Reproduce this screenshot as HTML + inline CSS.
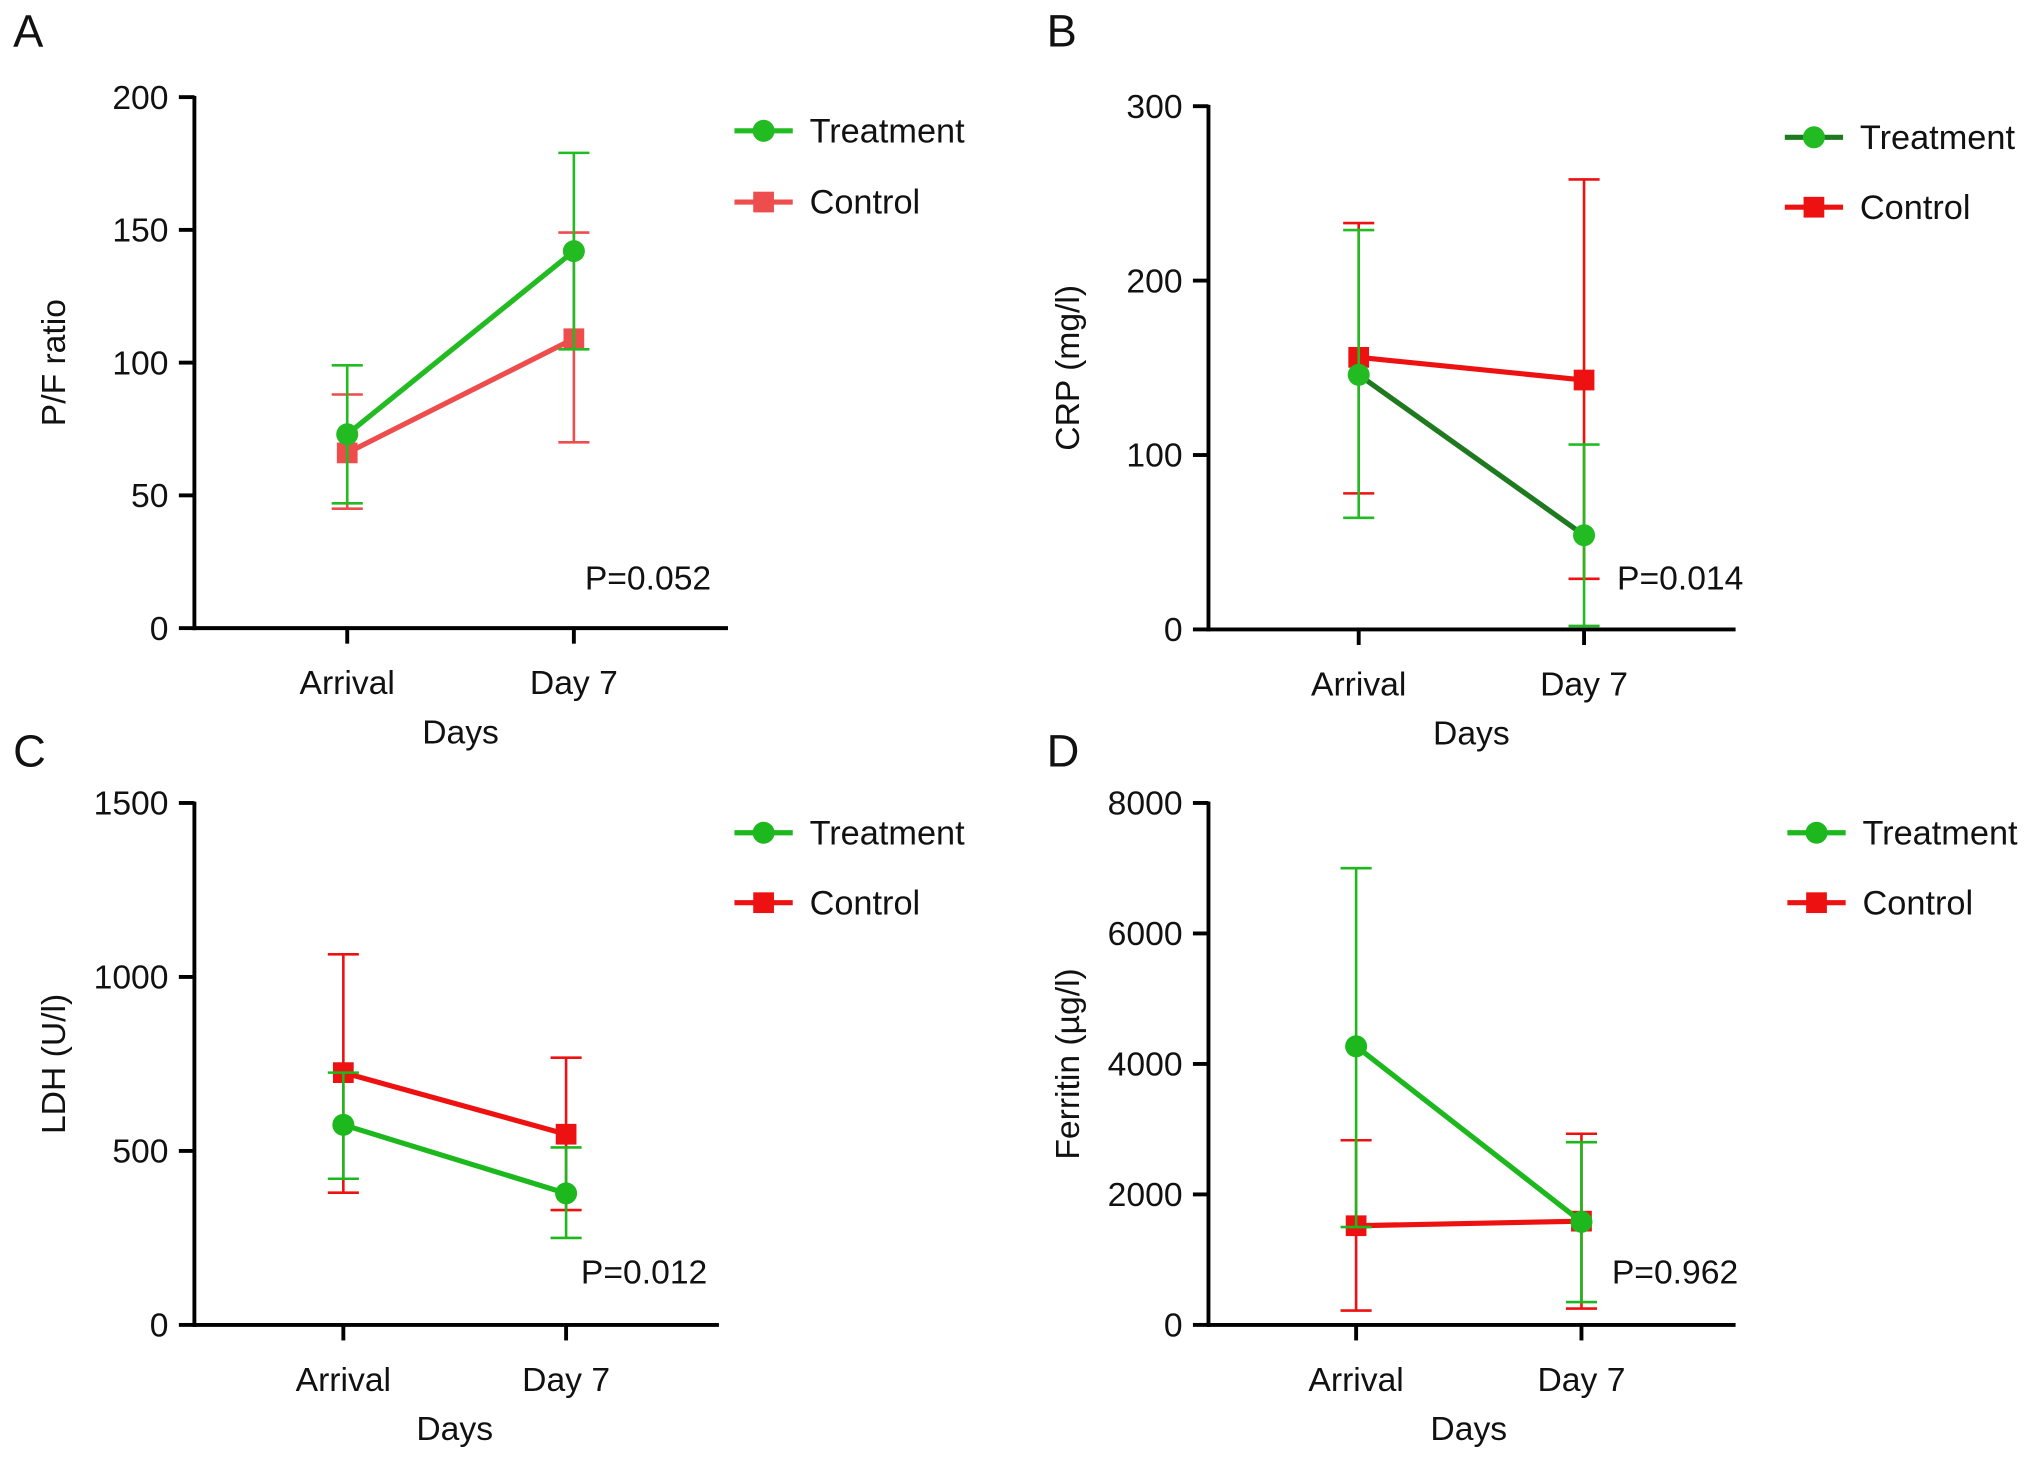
<!DOCTYPE html>
<html><head><meta charset="utf-8"><style>
html,body{margin:0;padding:0;background:#fff}
svg{display:block}
text{font-family:"Liberation Sans",sans-serif;fill:#111}
</style></head><body>
<svg id="fig" width="2031" height="1457" viewBox="0 0 1568 1125" xmlns="http://www.w3.org/2000/svg"></svg>
<script>
const categories = ["Arrival","Day 7"];
// Panel A
const aTicks = [0,50,100,150,200];
const aTreat = [73,142], aTreatLo=[47,105], aTreatHi=[99,179];
const aCtrl = [66,109], aCtrlLo=[45,70], aCtrlHi=[88,149];
// Panel B
const bTicks = [0,100,200,300];
const bTreat = [146,54], bTreatLo=[64,2], bTreatHi=[229,106];
const bCtrl = [156,143], bCtrlLo=[78,29], bCtrlHi=[233,258];
// Panel C
const cTicks = [0,500,1000,1500];
const cTreat = [575,378], cTreatLo=[420,250], cTreatHi=[725,510];
const cCtrl = [725,548], cCtrlLo=[380,330], cCtrlHi=[1065,768];
// Panel D
const dTicks = [0,2000,4000,6000,8000];
const dTreat = [4270,1580], dTreatLo=[1500,350], dTreatHi=[7000,2800];
const dCtrl = [1520,1590], dCtrlLo=[220,250], dCtrlHi=[2830,2930];

const NS="http://www.w3.org/2000/svg";
const svg=document.getElementById('fig');
function el(tag,attrs,parent,txt){const e=document.createElementNS(NS,tag);for(const k in attrs)e.setAttribute(k,attrs[k]);if(txt!==undefined)e.textContent=txt;(parent||svg).appendChild(e);return e;}

const panels=[
 {id:'a',letter:'A',lx:10,ly:36,ax:150,top:75,bot:485,xend:562,xs:[268,443],max:200,ticks:aTicks,ylab:'P/F ratio',
  t:aTreat,tlo:aTreatLo,thi:aTreatHi,c:aCtrl,clo:aCtrlLo,chi:aCtrlHi,tcol:'#22bb22',tline:'#22bb22',ccol:'#ee4d4d',
  p:'P=0.052',px:549,py:455,legx:567,legy:[101,156]},
 {id:'b',letter:'B',lx:808,ly:36,ax:933,top:82,bot:486,xend:1340,xs:[1049,1223],max:300,ticks:bTicks,ylab:'CRP (mg/l)',
  t:bTreat,tlo:bTreatLo,thi:bTreatHi,c:bCtrl,clo:bCtrlLo,chi:bCtrlHi,tcol:'#22bb22',tline:'#1f7a1f',ccol:'#ee1111',
  p:'P=0.014',px:1346,py:455,legx:1378,legy:[106,160]},
 {id:'c',letter:'C',lx:10,ly:592,ax:150,top:620,bot:1023,xend:555,xs:[265,437],max:1500,ticks:cTicks,ylab:'LDH (U/l)',
  t:cTreat,tlo:cTreatLo,thi:cTreatHi,c:cCtrl,clo:cCtrlLo,chi:cCtrlHi,tcol:'#1db81d',tline:'#1db81d',ccol:'#ee1111',
  p:'P=0.012',px:546,py:991,legx:567,legy:[643,697]},
 {id:'d',letter:'D',lx:808,ly:592,ax:933,top:620,bot:1023,xend:1340,xs:[1047,1221],max:8000,ticks:dTicks,ylab:'Ferritin (µg/l)',
  t:dTreat,tlo:dTreatLo,thi:dTreatHi,c:dCtrl,clo:dCtrlLo,chi:dCtrlHi,tcol:'#1db81d',tline:'#1db81d',ccol:'#ee1111',
  p:'P=0.962',px:1342,py:991,legx:1380,legy:[643,697]}
];

panels.forEach(P=>{
 const g=el('g',{});
 
 
 const y=v=>P.bot-(v/P.max)*(P.bot-P.top);
 const lt=el('text',{x:P.lx,y:P.ly,'font-size':35},g,P.letter);
 
 const ya=el('line',{x1:P.ax,y1:P.top-1,x2:P.ax,y2:P.bot+1.5,stroke:'#000','stroke-width':3},g);
 
 const xa=el('line',{x1:P.ax-1.5,y1:P.bot,x2:P.xend,y2:P.bot,stroke:'#000','stroke-width':3},g);
 
 P.ticks.forEach(t=>{
  el('line',{x1:P.ax-12,y1:y(t),x2:P.ax,y2:y(t),stroke:'#000','stroke-width':3},g);
  const tl=el('text',{x:P.ax-20,y:y(t)+9,'font-size':26,'text-anchor':'end'},g,t);
  
 });
 P.xs.forEach((x,i)=>{
  el('line',{x1:x,y1:P.bot,x2:x,y2:P.bot+12,stroke:'#000','stroke-width':3},g);
  const xl=el('text',{x:x,y:P.bot+51,'font-size':26,'text-anchor':'middle'},g,categories[i]);
  
 });
 const xt=el('text',{x:(P.xs[0]+P.xs[1])/2,y:P.bot+89,'font-size':26,'text-anchor':'middle'},g,'Days');
 
 const yx=P.ax-100, ym=(P.top+P.bot)/2;
 const yt=el('text',{x:yx,y:ym,'font-size':26,'text-anchor':'middle',transform:`rotate(-90 ${yx} ${ym})`},g,P.ylab);
 
 function series(vals,lo,hi,col,lineCol,square,name){
  const sg=el('g',{},g);
  
  vals.forEach((v,i)=>{
   const x=P.xs[i];
   el('line',{x1:x,y1:y(lo[i]),x2:x,y2:y(hi[i]),stroke:col,'stroke-width':2},sg);
   el('line',{x1:x-12,y1:y(lo[i]),x2:x+12,y2:y(lo[i]),stroke:col,'stroke-width':2},sg);
   el('line',{x1:x-12,y1:y(hi[i]),x2:x+12,y2:y(hi[i]),stroke:col,'stroke-width':2},sg);
  });
  el('line',{x1:P.xs[0],y1:y(vals[0]),x2:P.xs[1],y2:y(vals[1]),stroke:lineCol,'stroke-width':4},sg);
  vals.forEach((v,i)=>{
   const x=P.xs[i];let m;
   if(square)m=el('rect',{x:x-8,y:y(v)-8,width:16,height:16,fill:col},sg);
   else m=el('circle',{cx:x,cy:y(v),r:8.5,fill:col},sg);
   
  });
 }
 series(P.c,P.clo,P.chi,P.ccol,P.ccol,true,'control');
 series(P.t,P.tlo,P.thi,P.tcol,P.tline,false,'treatment');
 const pt=el('text',{x:P.px,y:P.py,'font-size':26,'text-anchor':'end'},g,P.p);
 
 [['Treatment',P.tcol,P.tline,false],['Control',P.ccol,P.ccol,true]].forEach((L,i)=>{
  const lg=el('g',{},g);
  
  const ly=P.legy[i];
  el('line',{x1:P.legx,y1:ly,x2:P.legx+45,y2:ly,stroke:L[2],'stroke-width':4},lg);
  if(L[3])el('rect',{x:P.legx+14.5,y:ly-8,width:16,height:16,fill:L[1]},lg);
  else el('circle',{cx:P.legx+22.5,cy:ly,r:8.5,fill:L[1]},lg);
  el('text',{x:P.legx+58,y:ly+9,'font-size':26.5},lg,L[0]);
 });
});
</script>
</body></html>
